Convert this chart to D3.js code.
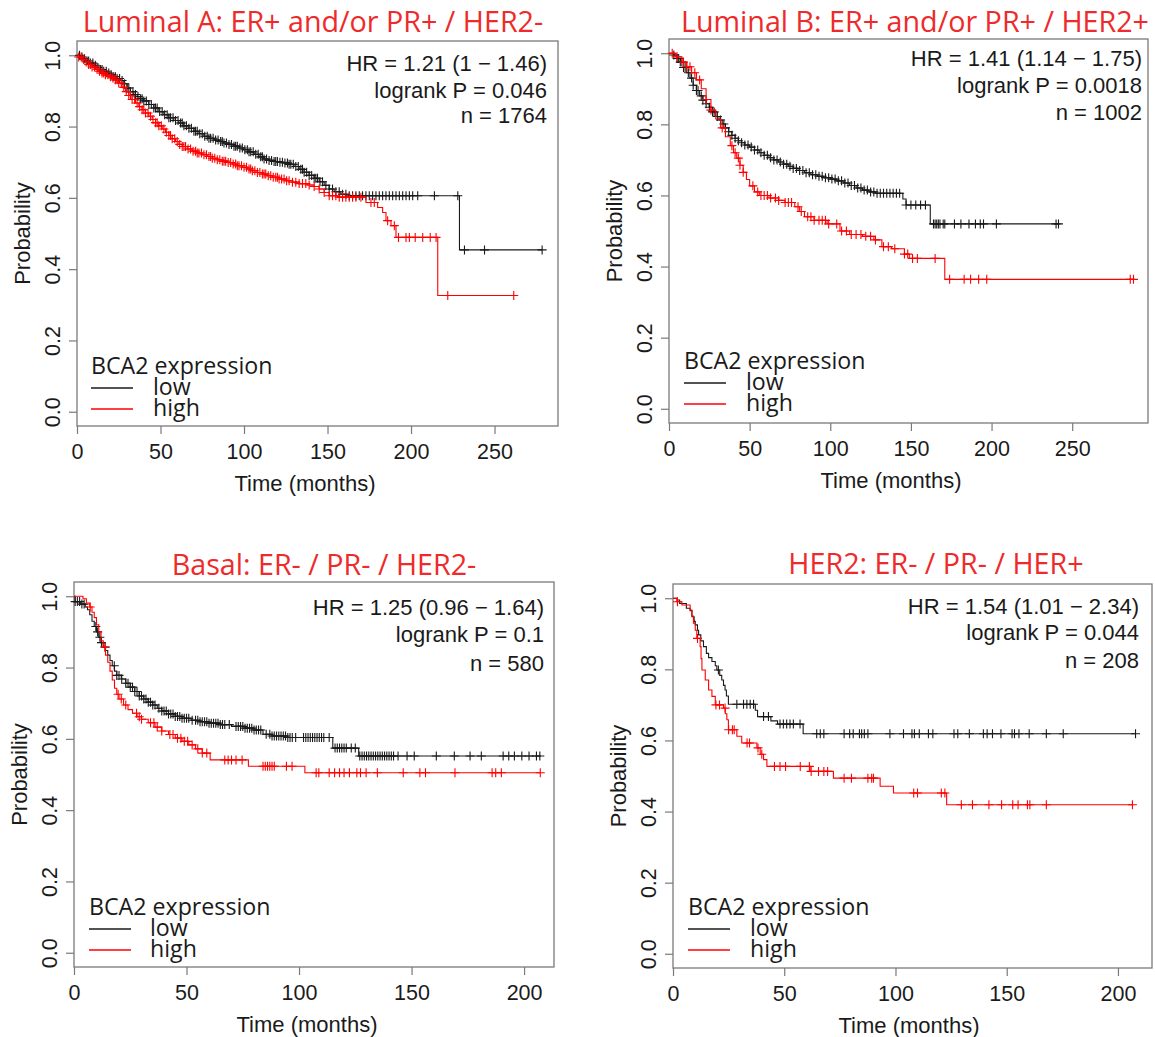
<!DOCTYPE html>
<html>
<head>
<meta charset="utf-8">
<script src="https://cdn.jsdelivr.net/npm/d3@7"></script>
<style>
  body { margin: 0; background: #fff; }
  svg { display: block; }
  .rtxt { font-family: "Liberation Sans", Arial, sans-serif; fill: #1a1a1a; }
  .ppt { font-family: "Open Sans", "Noto Sans", sans-serif; }
</style>
</head>
<body>
<div id="chart"></div>
<script>
/* Textos */
const titles = ['Luminal A: ER+ and/or PR+ / HER2-', 'Luminal B: ER+ and/or PR+ / HER2+', 'Basal: ER- / PR- / HER2-', 'HER2: ER- / PR- / HER+']
const hrLabels = ['HR = 1.21 (1 − 1.46)', 'HR = 1.41 (1.14 − 1.75)', 'HR = 1.25 (0.96 − 1.64)', 'HR = 1.54 (1.01 − 2.34)']
const pLabels = ['logrank P = 0.046', 'logrank P = 0.0018', 'logrank P = 0.1', 'logrank P = 0.044']
const nLabels = ['n = 1764', 'n = 1002', 'n = 580', 'n = 208']
const legendTitle = 'BCA2 expression'
const groups = ['low', 'high']
const xTitle = 'Time (months)'
const yTitle = 'Probability'
const xTicksLong = [0, 50, 100, 150, 200, 250]
const xTicksShort = [0, 50, 100, 150, 200]
const yTicks = [0, 0.2, 0.4, 0.6, 0.8, 1.0]

/* Curvas KM: [meses, probabilidad] despues de cada caida */
const lumALowSteps = [[0,1],[2,0.995],[4,0.99],[6,0.984],[8,0.978],[10,0.972],[12,0.966],[14,0.96],[16,0.955],[18,0.95],[20,0.945],[22,0.94],[24,0.935],[26,0.929],[28,0.92],[30,0.908],[32,0.898],[34,0.89],[36,0.884],[38,0.878],[40,0.872],[43,0.862],[46,0.852],[49,0.842],[52,0.833],[55,0.825],[58,0.817],[61,0.81],[64,0.802],[67,0.795],[70,0.787],[73,0.78],[76,0.773],[79,0.767],[82,0.762],[85,0.758],[88,0.754],[91,0.75],[94,0.745],[97,0.74],[100,0.735],[103,0.729],[106,0.722],[109,0.715],[112,0.709],[115,0.705],[118,0.702],[121,0.7],[124,0.698],[127,0.694],[130,0.688],[133,0.68],[136,0.672],[139,0.663],[142,0.655],[145,0.645],[148,0.635],[151,0.625],[154,0.617],[158,0.61],[163,0.606],[229,0.454]]
const lumAHighSteps = [[0,1],[1,0.995],[3,0.988],[5,0.981],[7,0.974],[9,0.967],[11,0.961],[13,0.955],[15,0.95],[17,0.945],[19,0.94],[21,0.936],[23,0.931],[25,0.922],[27,0.91],[29,0.898],[31,0.887],[33,0.876],[35,0.866],[37,0.856],[39,0.847],[41,0.838],[43,0.829],[45,0.82],[47,0.811],[49,0.802],[51,0.793],[53,0.784],[55,0.775],[57,0.766],[59,0.758],[61,0.75],[63,0.744],[66,0.737],[69,0.731],[72,0.726],[75,0.721],[78,0.716],[81,0.711],[84,0.707],[87,0.703],[90,0.699],[93,0.695],[96,0.69],[99,0.686],[102,0.681],[105,0.676],[108,0.671],[111,0.667],[114,0.662],[117,0.658],[121,0.653],[125,0.648],[129,0.644],[133,0.64],[138,0.636],[142,0.632],[145,0.625],[148,0.615],[151,0.606],[156,0.602],[173,0.587],[180,0.573],[183,0.559],[185,0.536],[188,0.522],[191,0.489],[216,0.326]]
const lumBLowSteps = [[0,1],[3,0.995],[5,0.985],[7,0.975],[9,0.96],[11,0.945],[13,0.93],[15,0.91],[17,0.895],[19,0.88],[21,0.868],[23,0.858],[25,0.848],[27,0.835],[29,0.822],[31,0.812],[33,0.801],[35,0.79],[37,0.779],[39,0.769],[41,0.761],[43,0.754],[45,0.748],[47,0.742],[50,0.736],[53,0.728],[56,0.72],[59,0.713],[62,0.706],[65,0.7],[68,0.694],[71,0.688],[74,0.682],[77,0.676],[80,0.67],[84,0.664],[88,0.658],[92,0.654],[96,0.65],[100,0.646],[104,0.641],[108,0.635],[112,0.628],[116,0.621],[120,0.615],[124,0.61],[128,0.606],[145,0.59],[147,0.573],[162,0.52]]
const lumBHighSteps = [[0,1],[4,0.99],[8,0.975],[11,0.962],[14,0.945],[17,0.925],[20,0.9],[23,0.87],[26,0.84],[29,0.815],[32,0.79],[35,0.765],[38,0.74],[40,0.72],[42,0.705],[44,0.685],[46,0.665],[48,0.645],[50,0.627],[53,0.61],[56,0.6],[62,0.593],[68,0.586],[72,0.58],[78,0.568],[81,0.555],[84,0.54],[90,0.53],[98,0.52],[106,0.5],[112,0.49],[120,0.485],[127,0.475],[132,0.456],[138,0.45],[146,0.435],[149,0.423],[171,0.364]]
const basalLowSteps = [[0,1],[0.5,0.985],[3,0.978],[5,0.97],[6,0.962],[7,0.948],[8,0.93],[9,0.915],[10,0.9],[11,0.885],[12,0.87],[13,0.857],[14,0.848],[15,0.835],[16,0.82],[17,0.805],[18,0.79],[19,0.778],[21,0.768],[23,0.756],[25,0.745],[27,0.733],[29,0.72],[31,0.712],[33,0.703],[35,0.695],[37,0.686],[39,0.678],[42,0.67],[45,0.663],[48,0.658],[52,0.652],[56,0.648],[60,0.644],[65,0.64],[70,0.635],[76,0.63],[80,0.625],[84,0.613],[88,0.608],[95,0.604],[115,0.574],[126.5,0.552]]
const basalHighSteps = [[0,1],[4,0.993],[5.5,0.981],[7,0.97],[8,0.955],[9,0.94],[10,0.92],[11,0.9],[12,0.875],[13,0.858],[14,0.835],[15,0.815],[16,0.79],[17,0.765],[18,0.742],[19,0.725],[20,0.712],[22,0.695],[24,0.682],[26,0.672],[28,0.662],[30,0.655],[33,0.645],[36,0.633],[39,0.622],[42,0.612],[45,0.602],[48,0.593],[51,0.583],[54,0.572],[57,0.56],[60.5,0.541],[77.5,0.523],[102.6,0.505]]
const her2LowSteps = [[0,1],[2,0.995],[3,0.985],[6,0.972],[7.7,0.965],[8.5,0.948],[9.5,0.935],[10,0.925],[11,0.91],[11.5,0.897],[12.5,0.88],[13.7,0.864],[15,0.845],[16,0.833],[17.5,0.822],[19,0.81],[19.7,0.798],[21,0.783],[21.9,0.77],[22.7,0.755],[23.4,0.742],[24,0.725],[24.9,0.702],[37,0.685],[38,0.667],[44,0.655],[47,0.646],[58.5,0.619]]
const her2HighSteps = [[0,1],[1.7,0.99],[4,0.981],[7.7,0.967],[8.5,0.95],[9.2,0.93],[10,0.91],[10.7,0.887],[12.2,0.864],[12.6,0.83],[13,0.798],[14.5,0.77],[16,0.742],[17.5,0.724],[19,0.7],[22.7,0.691],[23.5,0.675],[24.2,0.658],[24.9,0.63],[28.7,0.612],[30.9,0.593],[37.7,0.579],[39.2,0.561],[40.7,0.546],[42.2,0.527],[61.6,0.513],[72.1,0.494],[93.1,0.471],[99.1,0.452],[123,0.419]]

/* Censurados (meses); el ultimo valor es el fin del seguimiento */
const lumALowCens = [1.5,3,4.5,6,7,8,9.5,11,12.5,14,15,16,17.5,19,20.5,22,23,24,25.5,27,28.5,30,31,32,33.5,35,36.5,38,39,40,41.5,43,44.5,46,47,48,49.5,51,52.5,54,55,56,57.5,59,60.5,62,63,64,65.5,67,68.5,70,71,72,73.5,75,76.5,78,79,80,81.5,83,84.5,86,87,88,89.5,91,92.5,94,95,96,97.5,99,100.5,102,103,104,105.5,107,108.5,110,111,112,113.5,115,116.5,118,119,120,121.5,123,124.5,126,127,128,129.5,131,132.5,134,135,136,137.5,139,140.5,142,143,144,145.5,147,149,151,153,155,157,159,161,163,165,167,169,171,173,175,177,179,181,183,185,187,189,191,193,195,197,199,201,204,214,228,232,244,278.5]
const lumAHighCens = [1,2.5,4,5.5,7,8,9,10.5,12,13.5,15,16,17,18.5,20,21.5,23,24,25,26.5,28,29.5,31,32,33,34.5,36,37.5,39,40,41,42.5,44,45.5,47,48,49,50.5,52,53.5,55,56,57,58.5,60,61.5,63,64,65,66.5,68,69.5,71,72,73,74.5,76,77.5,79,80,81,82.5,84,85.5,87,88,89,90.5,92,93.5,95,96,97,98.5,100,101.5,103,104,105,106.5,108,109.5,111,112,113,114.5,116,117.5,119,120,121,122.5,124,125.5,127,129,131,133,135,137,139,142,145,148,151,153,155,157,159,161,163,165,167,170,176,178,186,190,192.5,197,199,202.5,207,211.5,215,222,261.5]
const lumBLowCens = [3,5,6,7,8,9,10,12,14,15,17,18,20,21,23,25,27,28,30,32,34,35,37,39,41,43,45,47,49,51,53,55,57,59,61,63,65,67,69,71,73,75,77,79,81,83,85,87,89,91,93,95,97,99,101,103,105,107,109,111,113,115,117,119,121,123,125,127,129,131,133,135,137,139,141,143,147,150,153,156,159,164,165,166,167,168,170,171,177,181,186,190,193,195,203,240,241.5]
const lumBHighCens = [2,5,9,11,13,16,19,23,26,33,39,41,43,44,46,52,55,57,59,61,63,66,68,72,74,76,80,82,86,88,90,93,95,97,99,104,107,110,113,116,119,122,125,128,133,136,140,146,148,151,154,165,174,183,187,192,197,286,288]
const basalLowCens = [0.5,1.5,2.5,3.5,4.5,9.7,10.5,11.5,12.2,13.8,17.9,19,20,21.2,23,24,25,26,27,28,29,30,31,32,33,34,35,36,37.7,39,40,41,42,43,44,45,46,47,48,49,50,51,52.5,54,55,56,57,58,59,60,61,62,63,64,65,66,67,69,72,73,74,75,76,77,78,79,80,81,82,83,85.4,87,88,89,90,91,92,93,94,95,96,97,98.5,102,103,104,105,106,107,108,109,110,111,113.4,116,117,118,119,120,121,123.2,125,127,128,129,130,131,132,133,134,135,136,137,138,139,140,141,142,144,148,151.2,161,169,176,181,190.7,193.2,195.7,199,202.2,205.5,207]
const basalHighCens = [7.2,13.8,19.6,21,23,27.8,29,30,34,35.5,37,39,42.6,44,46,47.5,49,50.5,52.5,55,57,59,67,68.5,70,72,74.7,84,85,86,87,88,89,94.4,96.9,107.6,108.8,113.4,115.8,118,120,122.4,125.7,127.3,129.8,134.8,146.3,153.7,156.2,169.3,185.8,187.4,189.9,207.2]
const her2LowCens = [20.4,28.7,31.7,33.2,34.7,36.2,40.7,42.9,48.1,49.6,51.1,52.6,54.1,57.1,64.6,66.2,67.8,76.9,79.4,81,83.8,84.8,86,87.6,97.5,103.6,107.4,108.5,110.7,114.8,116.8,126.3,128,133.2,139.5,141.2,143.6,147.4,152.4,153.5,155.5,160.1,167.8,175.4,207.9]
const her2HighCens = [2,11,19.3,20.9,23.4,25,26.7,27.5,33.3,34.4,38.2,39.9,45.6,48.1,50.6,57.2,61.3,62.1,65.4,67.8,69.5,76.9,80.2,87.6,89.3,90.1,108.2,109.9,120.6,122.2,129.6,134.6,142,147.7,152.7,155.1,159.3,160.4,167.8,206.5]

/* Layout de cada panel */
const panels = [
  { i: 0, xTicks: xTicksLong, low: [lumALowSteps, lumALowCens], high: [lumAHighSteps, lumAHighCens],
    box: {l: 77, r: 558, t: 41, b: 426}, xMax: 288, titleX: 313, titleY: 22, xLabX: 305,
    statsX: 547, statsY: [63, 90, 115], leg: {x: 91, y: 366, rows: [388, 409], textX: 153} },
  { i: 1, xTicks: xTicksLong, low: [lumBLowSteps, lumBLowCens], high: [lumBHighSteps, lumBHighCens],
    box: {l: 669, r: 1148, t: 39, b: 423}, xMax: 297, titleX: 915, titleY: 22, xLabX: 891,
    statsX: 1142, statsY: [58, 85, 112], leg: {x: 684, y: 361, rows: [383, 404], textX: 746} },
  { i: 2, xTicks: xTicksShort, low: [basalLowSteps, basalLowCens], high: [basalHighSteps, basalHighCens],
    box: {l: 74, r: 554, t: 582, b: 967}, xMax: 213.3, titleX: 324, titleY: 565, xLabX: 307,
    statsX: 544, statsY: [607, 634, 663], leg: {x: 89, y: 907, rows: [929, 950], textX: 150} },
  { i: 3, xTicks: xTicksShort, low: [her2LowSteps, her2LowCens], high: [her2HighSteps, her2HighCens],
    box: {l: 673, r: 1152, t: 584, b: 968}, xMax: 215.3, titleX: 936, titleY: 564, xLabX: 909,
    statsX: 1139, statsY: [606, 632, 660], leg: {x: 688, y: 907, rows: [929, 950], textX: 750} }
]

const colors = {low: '#1a1a1a', high: '#ff0000'}
const axisColor = '#7a7a7a'

const svg = d3.select('#chart')
  .append('svg')
  .attr('width', 1155)
  .attr('height', 1037)

const bisect = d3.bisector(d => d[0]).right
const survAt = (steps, t) => steps[Math.max(0, bisect(steps, t) - 1)][1]

panels.forEach(p => {
  const x = d3.scaleLinear().domain([0, p.xMax]).range([p.box.l, p.box.r])
  const y = d3.scaleLinear().domain([-0.04, 1.04]).range([p.box.b, p.box.t])
  const g = svg.append('g')

  /*Titulo*/
  g.append('text')
    .attr('class', 'ppt')
    .attr('x', p.titleX).attr('y', p.titleY).attr('dy', '0.36em')
    .attr('text-anchor', 'middle')
    .attr('font-size', 28.7)
    .attr('fill', '#ee2a2a')
    .text(titles[p.i])

  /*Eje x*/
  const xAxis = g.append('g')
    .attr('transform', `translate(0,${p.box.b})`)
    .call(d3.axisBottom(x).tickValues(p.xTicks).tickSize(8).tickSizeOuter(0).tickPadding(10))
  xAxis.select('.domain').remove()
  xAxis.selectAll('line').attr('stroke', axisColor).attr('stroke-width', 1.2)
  xAxis.selectAll('text').attr('class', 'rtxt').attr('font-size', 21.5).attr('fill', '#1a1a1a')

  /*Eje y con etiquetas verticales*/
  const yAxis = g.append('g')
    .attr('transform', `translate(${p.box.l},0)`)
    .call(d3.axisLeft(y).tickValues(yTicks).tickFormat(d3.format('.1f')).tickSize(8).tickSizeOuter(0))
  yAxis.select('.domain').remove()
  yAxis.selectAll('line').attr('stroke', axisColor).attr('stroke-width', 1.2)
  yAxis.selectAll('text')
    .attr('class', 'rtxt').attr('font-size', 21.5).attr('fill', '#1a1a1a')
    .attr('x', null).attr('dy', '0.35em')
    .attr('text-anchor', 'middle')
    .attr('transform', 'translate(-25,0) rotate(-90)')

  /*Caja*/
  g.append('rect')
    .attr('x', p.box.l).attr('y', p.box.t)
    .attr('width', p.box.r - p.box.l).attr('height', p.box.b - p.box.t)
    .attr('fill', 'none').attr('stroke', axisColor).attr('stroke-width', 1.3)

  /*Titulos de ejes*/
  g.append('text')
    .attr('class', 'rtxt').attr('font-size', 22)
    .attr('x', p.xLabX).attr('y', p.box.b + 57).attr('dy', '0.35em')
    .attr('text-anchor', 'middle')
    .text(xTitle)

  g.append('text')
    .attr('class', 'rtxt').attr('font-size', 22)
    .attr('transform', `translate(${p.box.l - 55},${(p.box.t + p.box.b) / 2}) rotate(-90)`)
    .attr('dy', '0.35em')
    .attr('text-anchor', 'middle')
    .text(yTitle)

  /*Curvas y censurados*/
  const line = d3.line().x(d => x(d[0])).y(d => y(d[1])).curve(d3.curveStepAfter)
  groups.forEach(grp => {
    const [steps, cens] = p[grp]
    const end = d3.max(cens)
    const pts = steps.concat([[end, steps[steps.length - 1][1]]])
    g.append('path')
      .datum(pts)
      .attr('d', line)
      .attr('fill', 'none')
      .attr('stroke', colors[grp])
      .attr('stroke-width', 1.1)

    g.append('g')
      .selectAll('path')
      .data(cens)
      .join('path')
      .attr('d', t => {
        const cx = x(t), cy = y(survAt(steps, t))
        return `M${cx - 4.5},${cy}h9M${cx},${cy - 4.5}v9`
      })
      .attr('stroke', colors[grp])
      .attr('stroke-width', 1.1)
  })

  /*Estadisticos*/
  g.selectAll('.stat')
    .data([hrLabels[p.i], pLabels[p.i], nLabels[p.i]])
    .join('text')
    .attr('class', 'rtxt')
    .attr('font-size', 22)
    .attr('x', p.statsX)
    .attr('y', (d, k) => p.statsY[k]).attr('dy', '0.35em')
    .attr('text-anchor', 'end')
    .text(d => d)

  /*Leyenda*/
  g.append('text')
    .attr('class', 'ppt').attr('font-size', 23.2).attr('fill', '#1a1a1a')
    .attr('x', p.leg.x).attr('y', p.leg.y).attr('dy', '0.36em')
    .text(legendTitle)

  groups.forEach((grp, k) => {
    g.append('line')
      .attr('x1', p.leg.x).attr('x2', p.leg.x + 42)
      .attr('y1', p.leg.rows[k]).attr('y2', p.leg.rows[k])
      .attr('stroke', colors[grp]).attr('stroke-width', 1.6)
    g.append('text')
      .attr('class', 'ppt').attr('font-size', 23.2).attr('fill', '#1a1a1a')
      .attr('x', p.leg.textX).attr('y', p.leg.rows[k]).attr('dy', '0.3em')
      .text(grp)
  })
})
</script>
</body>
</html>
